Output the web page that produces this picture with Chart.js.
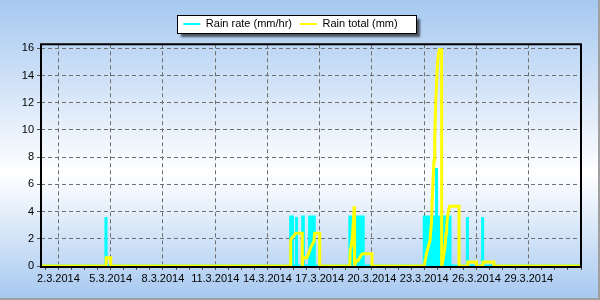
<!DOCTYPE html>
<html>
<head>
<meta charset="utf-8">
<title>Rain rate / Rain total</title>
<script src="https://cdn.jsdelivr.net/npm/chart.js@4.4.1/dist/chart.umd.min.js"></script>
<style>
  html, body { margin: 0; padding: 0; background: #fff; }
  #chart { display: block; }
</style>
</head>
<body>
<canvas id="chart" width="600" height="300"></canvas>
<script>
// Rain rate and daily rain total, March 2014.
// Times are "day.month hh:mm".
// A repeated time means a vertical step (spike or midnight reset).

const rateTimes = [
  '1.3 00:00',
  '4.3 17:30', '4.3 17:30', '4.3 17:30',
  '15.3 08:00', '15.3 08:00', '15.3 10:30', '15.3 10:30',
  '15.3 16:00', '15.3 16:00', '15.3 16:00',
  '16.3 00:30', '16.3 00:30', '16.3 01:30', '16.3 01:30',
  '16.3 10:00', '16.3 10:00', '16.3 16:30', '16.3 16:30',
  '18.3 17:30', '18.3 17:30', '19.3 12:00', '19.3 12:00',
  '23.3 00:00', '23.3 00:00', '23.3 17:00', '23.3 17:00', '23.3 17:00', '24.3 11:30', '24.3 11:30',
  '25.3 11:30', '25.3 11:30', '25.3 11:30',
  '26.3 08:30', '26.3 08:30', '26.3 08:30',
  '1.4 00:00'
];
const rateValues = [
  0,
  0, 3.6, 0,
  0, 3.6, 3.6, 0,
  0, 3.6, 0,
  0, 3.6, 3.6, 0,
  0, 3.6, 3.6, 0,
  0, 3.6, 3.6, 0,
  0, 3.6, 3.6, 7.2, 3.6, 3.6, 0,
  0, 3.6, 0,
  0, 3.6, 0,
  0
];

const totalTimes = [
  '1.3 00:00',
  '4.3 17:30', '4.3 18:00', '5.3 00:00', '5.3 00:00',
  '15.3 07:30', '15.3 08:00', '15.3 10:00', '15.3 12:00', '15.3 15:00', '16.3 00:00', '16.3 00:00',
  '16.3 01:00', '16.3 06:00', '16.3 08:00', '16.3 10:00', '16.3 12:00', '16.3 14:00', '16.3 16:00', '16.3 17:00', '17.3 00:00', '17.3 00:00',
  '18.3 17:30', '18.3 18:00', '18.3 19:30', '18.3 21:00', '18.3 22:30', '18.3 23:30', '19.3 00:00', '19.3 00:00',
  '19.3 01:00', '19.3 03:00', '19.3 05:00', '19.3 07:00', '19.3 09:00', '19.3 11:00', '20.3 00:00', '20.3 00:00',
  '23.3 00:00', '23.3 03:00', '23.3 08:00', '23.3 10:00', '23.3 11:00', '23.3 13:30', '23.3 14:30', '23.3 16:00', '23.3 18:00', '23.3 19:30', '23.3 21:00', '24.3 00:00', '24.3 00:00',
  '24.3 01:00', '24.3 03:00', '24.3 05:00', '24.3 06:00', '24.3 07:00', '24.3 08:00', '24.3 09:30', '24.3 11:00', '25.3 00:00', '25.3 00:00',
  '25.3 11:30', '25.3 12:00', '26.3 00:00', '26.3 00:00',
  '26.3 08:30', '26.3 09:00', '27.3 00:00', '27.3 00:00',
  '1.4 00:00'
];
const totalValues = [
  0,
  0, 0.6, 0.6, 0,
  0, 1.9, 2.1, 2.2, 2.4, 2.4, 0,
  0.6, 0.6, 0.8, 1.1, 1.4, 1.6, 1.8, 2.4, 2.4, 0,
  0, 1.2, 1.5, 2.2, 3.4, 4.4, 4.4, 0,
  0.2, 0.4, 0.4, 0.6, 0.8, 0.9, 0.9, 0,
  0, 0.9, 1.9, 3.2, 4.9, 7.8, 9.5, 12.2, 14.6, 15.6, 15.9, 15.9, 0,
  0.2, 0.8, 1.6, 2.4, 3.0, 3.6, 4.1, 4.4, 4.4, 0,
  0, 0.3, 0.3, 0,
  0, 0.3, 0.3, 0,
  0
];

// x axis runs in days from 1.3.2014 00:00 to 1.4.2014 00:00
const majorTickDays = [1, 4, 7, 10, 13, 16, 19, 22, 25, 28];
const tickLabels = ['2.3.2014', '5.3.2014', '8.3.2014', '11.3.2014', '14.3.2014',
                    '17.3.2014', '20.3.2014', '23.3.2014', '26.3.2014', '29.3.2014'];
const yTicks = [0, 2, 4, 6, 8, 10, 12, 14, 16];

function toDay(s) {
  const [date, time] = s.split(' ');
  const [d, m] = date.split('.').map(Number);
  const [hh, mm] = time.split(':').map(Number);
  const day = (m === 4 ? 31 : 0) + d - 1;
  return day + hh / 24 + mm / 1440;
}

function toPoints(times, values) {
  return times.map((t, i) => ({ x: toDay(t), y: values[i] }));
}

// background gradient, outer frame, legend box and plot border
const backdrop = {
  id: 'backdrop',
  beforeInit(chart) {
    // a little extra room between the legend and the plot
    const legend = chart.legend;
    if (legend && !legend._extraFit) {
      const fit = legend.fit;
      legend.fit = function () {
        fit.call(this);
        this.height += 4.8;
      };
      legend._extraFit = true;
    }
  },
  beforeDraw(chart) {
    const { ctx, width, height } = chart;
    ctx.save();
    const g = ctx.createLinearGradient(0, 0, 0, height);
    g.addColorStop(0, '#a6c8f0');
    g.addColorStop(0.58, '#ffffff');
    g.addColorStop(1, '#a6c8f0');
    ctx.fillStyle = g;
    ctx.fillRect(0, 0, width, height);

    ctx.fillStyle = '#a0a0a0';
    ctx.fillRect(width - 2, 0, 2, height);
    ctx.fillRect(0, height - 2, width, 2);

    const boxes = chart.legend && chart.legend.legendHitBoxes;
    if (boxes && boxes.length) {
      const first = boxes[0];
      const last = boxes[boxes.length - 1];
      const x = Math.round(first.left - 6) + 0.5;
      const y = Math.round(first.top - 4) + 0.5;
      const w = Math.round(last.left + last.width + 19 - (first.left - 6));
      const h = 18;
      ctx.save();
      ctx.shadowColor = 'rgba(0, 0, 0, 0.6)';
      ctx.shadowBlur = 2;
      ctx.shadowOffsetX = 3;
      ctx.shadowOffsetY = 3;
      ctx.fillStyle = '#ffffff';
      ctx.fillRect(x, y, w, h);
      ctx.restore();
      ctx.strokeStyle = '#000000';
      ctx.lineWidth = 1;
      ctx.strokeRect(x, y, w, h);
    }
    ctx.restore();
  },
  beforeDatasetsDraw(chart) {
    const { ctx, chartArea: a } = chart;
    ctx.save();
    ctx.strokeStyle = '#000000';
    ctx.lineWidth = 2;
    ctx.beginPath();
    ctx.moveTo(a.left, a.bottom + 1);
    ctx.lineTo(a.right, a.bottom + 1);
    ctx.stroke();
    ctx.restore();
  },
  afterDatasetsDraw(chart) {
    const { ctx, chartArea: a } = chart;
    ctx.save();
    ctx.strokeStyle = '#000000';
    ctx.lineWidth = 2;
    ctx.beginPath();
    ctx.moveTo(a.left, a.bottom + 2);
    ctx.lineTo(a.left, a.top);
    ctx.lineTo(a.right, a.top);
    ctx.lineTo(a.right, a.bottom + 2);
    ctx.stroke();
    ctx.restore();
  }
};

Chart.defaults.font.family = 'Arial, "Liberation Sans", sans-serif';
Chart.defaults.font.size = 11;
Chart.defaults.color = '#000000';

new Chart(document.getElementById('chart').getContext('2d'), {
  type: 'line',
  data: {
    datasets: [{
      label: 'Rain rate (mm/hr)',
      data: toPoints(rateTimes, rateValues),
      borderColor: '#00ffff',
      backgroundColor: '#00ffff',
      borderWidth: 3,
      fill: 'origin',
      pointRadius: 0,
      tension: 0,
      order: 1
    }, {
      label: 'Rain total (mm)',
      data: toPoints(totalTimes, totalValues),
      borderColor: '#ffff00',
      backgroundColor: '#ffff00',
      borderWidth: 3,
      fill: false,
      pointRadius: 0,
      tension: 0,
      order: 0
    }]
  },
  options: {
    responsive: false,
    animation: false,
    events: [],
    layout: { padding: { top: 10.5, right: 19, bottom: 0, left: 0 } },
    plugins: {
      tooltip: { enabled: false },
      legend: {
        position: 'top',
        labels: {
          boxWidth: 17,
          boxHeight: 2,
          padding: 8,
          color: '#000000',
          sort: (a, b) => a.datasetIndex - b.datasetIndex,
          generateLabels: chart => Chart.defaults.plugins.legend.labels.generateLabels(chart)
            .map(item => Object.assign(item, { lineWidth: 0 }))
        }
      }
    },
    scales: {
      x: {
        type: 'linear',
        min: 0,
        max: 31,
        afterBuildTicks(scale) {
          // four minor steps between the labelled days
          const ticks = [];
          for (let v = 0.25; v <= 31; v += 0.75) ticks.push({ value: v });
          scale.ticks = ticks;
        },
        afterFit(scale) { scale.height = 34; },
        grid: {
          color: c => (c.tick && majorTickDays.includes(c.tick.value)) ? '#707070' : 'rgba(0,0,0,0)',
          tickColor: '#505050',
          tickLength: 4
        },
        border: { display: false, dash: [4, 3] },
        ticks: {
          autoSkip: false,
          maxRotation: 0,
          padding: 2,
          callback: v => {
            const i = majorTickDays.indexOf(v);
            return i < 0 ? '' : tickLabels[i];
          }
        }
      },
      y: {
        min: 0,
        max: 16.3,
        afterBuildTicks(scale) {
          scale.ticks = yTicks.map(v => ({ value: v }));
        },
        afterFit(scale) { scale.width = 41; },
        grid: { color: '#707070', tickColor: '#505050', tickLength: 4 },
        border: { display: false, dash: [4, 3] },
        ticks: { padding: 3 }
      }
    }
  },
  plugins: [backdrop]
});
</script>
</body>
</html>
